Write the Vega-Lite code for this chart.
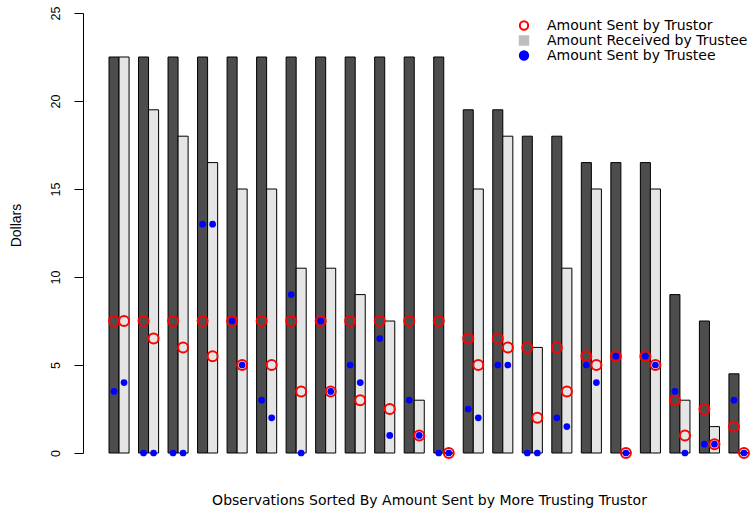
{
  "$schema": "https://vega.github.io/schema/vega-lite/v6.json",
  "width": 640,
  "height": 440,
  "autosize": {"type": "none"},
  "padding": {"left": 109, "top": 13, "right": 1, "bottom": 58},
  "config": {"view": {"stroke": null}, "font": "Liberation Sans"},
  "data": {"values": [
    {"obs": 1, "role": "More trusting", "received": 22.5, "trustorSent": 7.5, "trusteeSent": 3.5},
    {"obs": 1, "role": "Less trusting", "received": 22.5, "trustorSent": 7.5, "trusteeSent": 4},
    {"obs": 2, "role": "More trusting", "received": 22.5, "trustorSent": 7.5, "trusteeSent": 0},
    {"obs": 2, "role": "Less trusting", "received": 19.5, "trustorSent": 6.5, "trusteeSent": 0},
    {"obs": 3, "role": "More trusting", "received": 22.5, "trustorSent": 7.5, "trusteeSent": 0},
    {"obs": 3, "role": "Less trusting", "received": 18, "trustorSent": 6, "trusteeSent": 0},
    {"obs": 4, "role": "More trusting", "received": 22.5, "trustorSent": 7.5, "trusteeSent": 13},
    {"obs": 4, "role": "Less trusting", "received": 16.5, "trustorSent": 5.5, "trusteeSent": 13},
    {"obs": 5, "role": "More trusting", "received": 22.5, "trustorSent": 7.5, "trusteeSent": 7.5},
    {"obs": 5, "role": "Less trusting", "received": 15, "trustorSent": 5, "trusteeSent": 5},
    {"obs": 6, "role": "More trusting", "received": 22.5, "trustorSent": 7.5, "trusteeSent": 3},
    {"obs": 6, "role": "Less trusting", "received": 15, "trustorSent": 5, "trusteeSent": 2},
    {"obs": 7, "role": "More trusting", "received": 22.5, "trustorSent": 7.5, "trusteeSent": 9},
    {"obs": 7, "role": "Less trusting", "received": 10.5, "trustorSent": 3.5, "trusteeSent": 0},
    {"obs": 8, "role": "More trusting", "received": 22.5, "trustorSent": 7.5, "trusteeSent": 7.5},
    {"obs": 8, "role": "Less trusting", "received": 10.5, "trustorSent": 3.5, "trusteeSent": 3.5},
    {"obs": 9, "role": "More trusting", "received": 22.5, "trustorSent": 7.5, "trusteeSent": 5},
    {"obs": 9, "role": "Less trusting", "received": 9, "trustorSent": 3, "trusteeSent": 4},
    {"obs": 10, "role": "More trusting", "received": 22.5, "trustorSent": 7.5, "trusteeSent": 6.5},
    {"obs": 10, "role": "Less trusting", "received": 7.5, "trustorSent": 2.5, "trusteeSent": 1},
    {"obs": 11, "role": "More trusting", "received": 22.5, "trustorSent": 7.5, "trusteeSent": 3},
    {"obs": 11, "role": "Less trusting", "received": 3, "trustorSent": 1, "trusteeSent": 1},
    {"obs": 12, "role": "More trusting", "received": 22.5, "trustorSent": 7.5, "trusteeSent": 0},
    {"obs": 12, "role": "Less trusting", "received": 0, "trustorSent": 0, "trusteeSent": 0},
    {"obs": 13, "role": "More trusting", "received": 19.5, "trustorSent": 6.5, "trusteeSent": 2.5},
    {"obs": 13, "role": "Less trusting", "received": 15, "trustorSent": 5, "trusteeSent": 2},
    {"obs": 14, "role": "More trusting", "received": 19.5, "trustorSent": 6.5, "trusteeSent": 5},
    {"obs": 14, "role": "Less trusting", "received": 18, "trustorSent": 6, "trusteeSent": 5},
    {"obs": 15, "role": "More trusting", "received": 18, "trustorSent": 6, "trusteeSent": 0},
    {"obs": 15, "role": "Less trusting", "received": 6, "trustorSent": 2, "trusteeSent": 0},
    {"obs": 16, "role": "More trusting", "received": 18, "trustorSent": 6, "trusteeSent": 2},
    {"obs": 16, "role": "Less trusting", "received": 10.5, "trustorSent": 3.5, "trusteeSent": 1.5},
    {"obs": 17, "role": "More trusting", "received": 16.5, "trustorSent": 5.5, "trusteeSent": 5},
    {"obs": 17, "role": "Less trusting", "received": 15, "trustorSent": 5, "trusteeSent": 4},
    {"obs": 18, "role": "More trusting", "received": 16.5, "trustorSent": 5.5, "trusteeSent": 5.5},
    {"obs": 18, "role": "Less trusting", "received": 0, "trustorSent": 0, "trusteeSent": 0},
    {"obs": 19, "role": "More trusting", "received": 16.5, "trustorSent": 5.5, "trusteeSent": 5.5},
    {"obs": 19, "role": "Less trusting", "received": 15, "trustorSent": 5, "trusteeSent": 5},
    {"obs": 20, "role": "More trusting", "received": 9, "trustorSent": 3, "trusteeSent": 3.5},
    {"obs": 20, "role": "Less trusting", "received": 3, "trustorSent": 1, "trusteeSent": 0},
    {"obs": 21, "role": "More trusting", "received": 7.5, "trustorSent": 2.5, "trusteeSent": 0.5},
    {"obs": 21, "role": "Less trusting", "received": 1.5, "trustorSent": 0.5, "trusteeSent": 0.5},
    {"obs": 22, "role": "More trusting", "received": 4.5, "trustorSent": 1.5, "trusteeSent": 3},
    {"obs": 22, "role": "Less trusting", "received": 0, "trustorSent": 0, "trusteeSent": 0}
  ]},
  "encoding": {
    "x": {
      "field": "obs", "type": "ordinal",
      "scale": {"paddingInner": 0.32, "paddingOuter": 0},
      "axis": {
        "title": "Observations Sorted By Amount Sent by More Trusting Trustor",
        "labels": false, "ticks": false, "domain": false,
        "titlePadding": 40, "titleFontSize": 14, "titleFontWeight": "normal",
        "titleColor": "black", "titleFont": "DejaVu Sans"
      }
    },
    "xOffset": {
      "field": "role", "type": "nominal",
      "scale": {"domain": ["More trusting", "Less trusting"], "paddingInner": 0, "paddingOuter": 0}
    }
  },
  "layer": [
    {
      "mark": {"type": "bar", "stroke": "black", "strokeWidth": 1, "opacity": 1},
      "encoding": {
        "y": {
          "field": "received", "type": "quantitative", "title": "Dollars",
          "scale": {"domain": [0, 25], "nice": false},
          "axis": {
            "values": [0, 5, 10, 15, 20, 25], "offset": 26, "grid": false,
            "domainColor": "black", "tickColor": "black", "tickSize": 9,
            "labelAngle": -90, "labelAlign": "center", "labelBaseline": "bottom",
            "labelPadding": 12, "labelFontSize": 12.5, "labelColor": "black",
            "titleFontSize": 14, "titleFontWeight": "normal", "titleColor": "black",
            "titlePadding": 26, "titleY": 212
          }
        },
        "color": {
          "field": "role", "type": "nominal",
          "scale": {"domain": ["More trusting", "Less trusting"], "range": ["#4d4d4d", "#e5e5e5"]},
          "legend": null
        }
      }
    },
    {
      "mark": {"type": "point", "strokeWidth": 2, "size": 100, "opacity": 1},
      "encoding": {
        "y": {"field": "trustorSent", "type": "quantitative", "title": "Dollars"},
        "stroke": {
          "datum": "Amount Sent by Trustor", "type": "nominal",
          "scale": {
            "domain": ["Amount Sent by Trustor", "Amount Received by Trustee", "Amount Sent by Trustee"],
            "range": ["red", "#bebebe", "blue"]
          },
          "legend": {
            "title": null, "orient": "none", "legendX": 408, "legendY": 6,
            "labelFontSize": 14, "labelFont": "DejaVu Sans", "labelColor": "black",
            "labelLimit": 400, "labelOffset": 16, "rowPadding": 0, "clipHeight": 13,
            "symbolSize": 70, "symbolStrokeWidth": 2
          }
        },
        "fill": {
          "datum": "Amount Sent by Trustor", "type": "nominal",
          "scale": {
            "domain": ["Amount Sent by Trustor", "Amount Received by Trustee", "Amount Sent by Trustee"],
            "range": ["transparent", "#bebebe", "blue"]
          },
          "legend": {
            "title": null, "orient": "none", "legendX": 408, "legendY": 6,
            "labelFontSize": 14, "labelFont": "DejaVu Sans", "labelColor": "black",
            "labelLimit": 400, "labelOffset": 16, "rowPadding": 0, "clipHeight": 13,
            "symbolSize": 70, "symbolStrokeWidth": 2
          }
        },
        "shape": {
          "datum": "Amount Sent by Trustor", "type": "nominal",
          "scale": {
            "domain": ["Amount Sent by Trustor", "Amount Received by Trustee", "Amount Sent by Trustee"],
            "range": ["circle", "square", "circle"]
          },
          "legend": {
            "title": null, "orient": "none", "legendX": 408, "legendY": 6,
            "labelFontSize": 14, "labelFont": "DejaVu Sans", "labelColor": "black",
            "labelLimit": 400, "labelOffset": 16, "rowPadding": 0, "clipHeight": 13,
            "symbolSize": 70, "symbolStrokeWidth": 2
          }
        }
      }
    },
    {
      "mark": {"type": "point", "strokeWidth": 0, "size": 45, "opacity": 1},
      "encoding": {
        "y": {"field": "trusteeSent", "type": "quantitative", "title": "Dollars"},
        "stroke": {"datum": "Amount Sent by Trustee", "type": "nominal"},
        "fill": {"datum": "Amount Sent by Trustee", "type": "nominal"},
        "shape": {"datum": "Amount Sent by Trustee", "type": "nominal"}
      }
    }
  ]
}
